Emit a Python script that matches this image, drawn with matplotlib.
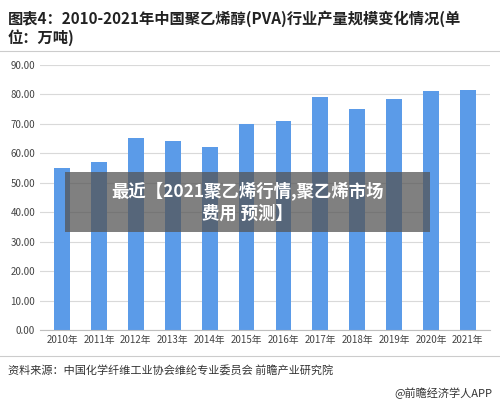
import matplotlib.pyplot as plt
from matplotlib.patches import Rectangle

plt.rcParams['font.family'] = ['Noto Sans CJK SC', 'DejaVu Sans']

years = ["2010年", "2011年", "2012年", "2013年", "2014年", "2015年",
         "2016年", "2017年", "2018年", "2019年", "2020年", "2021年"]
output = [55.0, 57.0, 65.0, 64.0, 62.0, 70.0, 71.0, 79.0, 75.0, 78.5, 81.0, 81.5]
yticks = [0, 10, 20, 30, 40, 50, 60, 70, 80, 90]

fig = plt.figure(figsize=(5, 4.05), dpi=100)
ax = fig.add_axes([0.08, 0.185, 0.90, 0.655])
ax.bar(range(len(years)), output, width=0.43, color="#5b9be8", zorder=2)
ax.set_xticks(range(len(years)))
ax.set_xticklabels(years, fontsize=7, color="#444444")
ax.set_yticks(yticks)
ax.set_yticklabels([f"{v:.2f}" for v in yticks], fontsize=7, color="#444444")
ax.set_ylim(0, 90)
ax.set_xlim(-0.6, len(years) - 0.4)
ax.grid(axis="y", color="#d9d9d9", linewidth=0.8, zorder=0)
for s in ["top", "right", "left"]:
    ax.spines[s].set_visible(False)
ax.spines["bottom"].set_color("#bfbfbf")
ax.tick_params(length=0)

fig.text(0.015, 0.975, "图表4：2010-2021年中国聚乙烯醇(PVA)行业产量规模变化情况(单\n位：万吨)",
         fontsize=11, fontweight="bold", va="top", ha="left", color="#222222")
fig.add_artist(plt.Line2D([0.0, 1.0], [0.875, 0.875], color="#cccccc", linewidth=0.8))
fig.add_artist(plt.Line2D([0.0, 1.0], [0.12, 0.12], color="#cccccc", linewidth=0.8))
fig.text(0.015, 0.085, "资料来源：中国化学纤维工业协会维纶专业委员会 前瞻产业研究院",
         fontsize=8, va="center", color="#333333")
fig.text(0.985, 0.03, "@前瞻经济学人APP", fontsize=8, va="center", ha="right", color="#333333")

fig.add_artist(Rectangle((0.13, 0.427), 0.73, 0.148, transform=fig.transFigure,
                         facecolor="#555555", alpha=0.75, edgecolor="none", zorder=5))
fig.text(0.495, 0.501, "最近【2021聚乙烯行情,聚乙烯市场\n费用 预测】", fontsize=12.5,
         fontweight="bold", color="white", ha="center", va="center", zorder=6,
         linespacing=1.3)

fig.savefig("out.png", dpi=100)
